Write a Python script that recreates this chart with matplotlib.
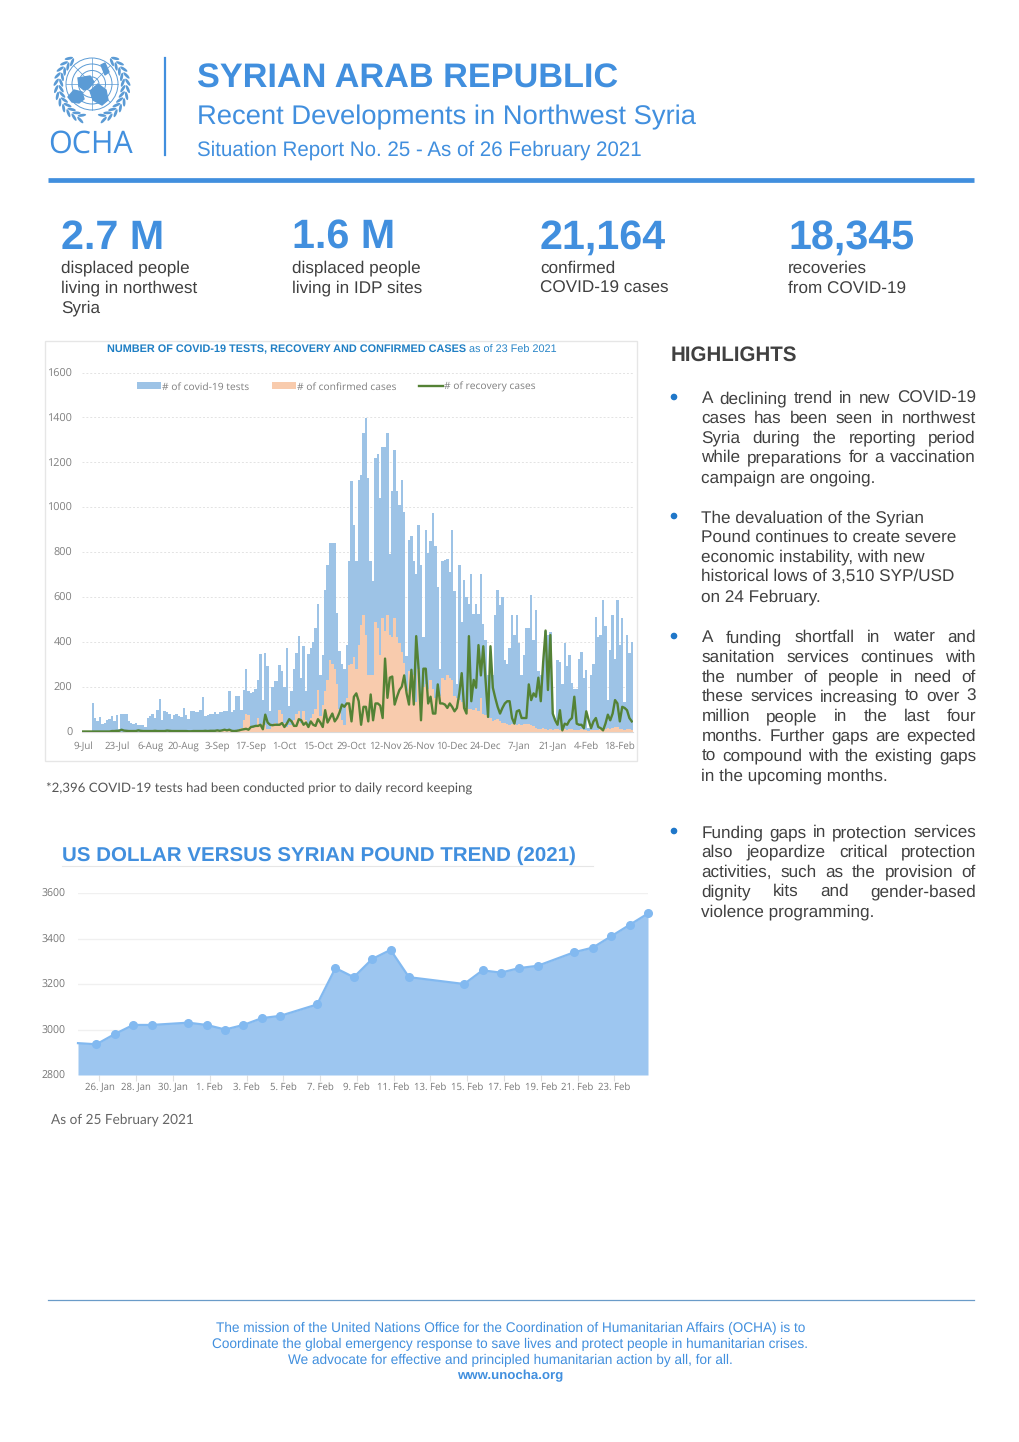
import numpy as np
import pandas as pd
import matplotlib
matplotlib.use("Agg")
import matplotlib.pyplot as plt
from matplotlib.patches import Circle, Ellipse, Polygon

plt.rcParams["font.family"] = ["Liberation Sans", "DejaVu Sans"]
plt.rcParams["text.hinting"] = "no_hinting"

# Daily covid chart, 9-Jul to 23-Feb
covid_tests = [
    0, 0, 0, 0, 125, 60, 45, 65, 35, 40,
    50, 55, 70, 45, 75, 10, 80, 80, 78, 45,
    38, 35, 38, 30, 30, 28, 20, 60, 70, 80,
    60, 95, 145, 50, 90, 85, 80, 55, 75, 80,
    70, 65, 105, 75, 55, 90, 90, 88, 85, 95,
    155, 70, 75, 78, 80, 85, 78, 88, 85, 90,
    90, 180, 85, 95, 160, 160, 95, 185, 280, 180,
    170, 175, 190, 230, 345, 140, 350, 290, 90, 200,
    225, 225, 295, 270, 200, 370, 115, 180, 280, 350,
    425, 240, 380, 180, 345, 370, 400, 460, 570, 250,
    340, 630, 740, 840, 840, 840, 530, 360, 300, 280,
    385, 760, 1115, 920, 760, 1120, 1145, 1330, 1397, 1130,
    760, 670, 1220, 1235, 1040, 1270, 1270, 1330, 790, 1070,
    1255, 1070, 1010, 1120, 980, 335, 855, 870, 760, 700,
    920, 740, 420, 900, 795, 850, 975, 825, 645, 280,
    760, 765, 770, 710, 900, 625, 210, 740, 490, 675,
    600, 570, 700, 525, 570, 525, 700, 480, 410, 250,
    330, 250, 520, 630, 565, 600, 320, 300, 370, 520,
    430, 520, 395, 250, 340, 460, 460, 610, 410, 540,
    270, 250, 280, 450, 430, 445, 90, 60, 320, 310,
    210, 395, 290, 340, 215, 190, 190, 325, 355, 240,
    275, 15, 250, 300, 510, 420, 430, 585, 470, 140,
    365, 520, 325, 585, 385, 505, 130, 430, 350, 400,
]
confirmed_cases = [
    0, 0, 0, 0, 0, 0, 0, 0, 0, 0,
    0, 0, 0, 0, 0, 0, 0, 0, 0, 0,
    0, 0, 0, 0, 0, 0, 0, 0, 0, 0,
    0, 0, 0, 0, 0, 0, 0, 0, 0, 0,
    0, 0, 0, 0, 0, 0, 0, 0, 0, 0,
    0, 0, 0, 0, 0, 0, 2, 2, 2, 3,
    3, 3, 5, 5, 8, 10, 15, 50, 80, 75,
    25, 15, 30, 60, 25, 40, 30, 10, 10, 30,
    40, 30, 95, 80, 40, 20, 30, 30, 50, 80,
    90, 40, 90, 50, 25, 60, 80, 100, 185, 70,
    120, 180, 230, 320, 300, 280, 210, 100, 50, 30,
    150, 295, 300, 330, 280, 385, 475, 520, 430, 250,
    250, 250, 490, 460, 340, 505, 450, 520, 430, 420,
    505, 420, 395, 355, 305, 180, 270, 220, 250, 130,
    280, 130, 200, 210, 190, 230, 190, 150, 190, 160,
    240, 230, 250, 240, 230, 160, 150, 140, 130, 100,
    110, 100, 100, 95, 105, 90, 150, 80, 75, 60,
    60, 45, 50, 55, 45, 37, 40, 35, 30, 35,
    35, 30, 35, 30, 35, 35, 35, 30, 25, 15,
    10, 12, 15, 10, 8, 10, 8, 10, 12, 8,
    8, 10, 8, 12, 10, 8, 6, 8, 10, 6,
    5, 3, 6, 8, 8, 8, 10, 12, 10, 14,
    10, 15, 20, 18, 12, 10, 8, 12, 10, 8,
]
recovery_cases = [
    0, 0, 0, 0, 0, 0, 0, 0, 0, 0,
    0, 0, 2, 2, 3, 3, 8, 4, 3, 2,
    2, 2, 2, 5, 3, 2, 2, 2, 2, 2,
    3, 2, 2, 2, 2, 4, 3, 2, 2, 2,
    2, 2, 2, 2, 1, 1, 2, 2, 2, 2,
    2, 3, 2, 3, 3, 3, 5, 3, 5, 8,
    5, 8, 3, 2, 3, 5, 8, 10, 12, 8,
    20, 22, 25, 25, 30, 10, 75, 40, 30, 28,
    30, 30, 30, 38, 20, 35, 55, 45, 25, 25,
    55, 50, 30, 40, 20, 45, 30, 25, 55, 40,
    20, 95, 40, 60, 80, 45, 60, 85, 120, 110,
    125, 125, 45, 155, 170, 135, 30, 110, 110, 45,
    165, 50, 125, 125, 115, 60, 325, 150, 240, 245,
    120, 155, 185, 200, 250, 170, 120, 275, 120, 425,
    280, 50, 280, 280, 125, 155, 80, 80, 210, 125,
    125, 120, 105, 125, 110, 90, 105, 170, 260, 105,
    80, 425, 135, 230, 195, 385, 250, 380, 225, 65,
    380, 195, 150, 110, 80, 105, 125, 135, 135, 60,
    35, 90, 95, 60, 60, 60, 210, 140, 170, 155,
    240, 135, 310, 450, 185, 430, 80, 50, 30, 95,
    5, 35, 30, 50, 60, 155, 35, 30, 30, 15,
    90, 50, 15, 45, 60, 20, 15, 5, 35, 75,
    50, 80, 140, 125, 45, 110, 105, 95, 60, 45,
]
covid_labels = ["9-Jul", "23-Jul", "6-Aug", "20-Aug", "3-Sep", "17-Sep", "1-Oct", "15-Oct",
                "29-Oct", "12-Nov", "26-Nov", "10-Dec", "24-Dec", "7-Jan", "21-Jan", "4-Feb", "18-Feb"]

# Exchange rate chart
fx_dates = ["2021-01-25", "2021-01-26", "2021-01-27", "2021-01-28", "2021-01-29", "2021-01-31",
            "2021-02-01", "2021-02-02", "2021-02-03", "2021-02-04", "2021-02-05", "2021-02-07",
            "2021-02-08", "2021-02-09", "2021-02-10", "2021-02-11", "2021-02-12", "2021-02-15",
            "2021-02-16", "2021-02-17", "2021-02-18", "2021-02-19", "2021-02-21", "2021-02-22",
            "2021-02-23", "2021-02-24", "2021-02-25"]
fx_values = [2940, 2935, 2980, 3020, 3020, 3030, 3020, 3000, 3020, 3050, 3060, 3110, 3270, 3230,
             3310, 3350, 3230, 3200, 3260, 3250, 3270, 3280, 3340, 3360, 3410, 3460, 3510]
fx_tick_dates = ["2021-01-26", "2021-01-28", "2021-01-30", "2021-02-01", "2021-02-03", "2021-02-05",
                 "2021-02-07", "2021-02-09", "2021-02-11", "2021-02-13", "2021-02-15", "2021-02-17",
                 "2021-02-19", "2021-02-21", "2021-02-23"]
fx_tick_labels = ["26. Jan", "28. Jan", "30. Jan", "1. Feb", "3. Feb", "5. Feb", "7. Feb", "9. Feb",
                  "11. Feb", "13. Feb", "15. Feb", "17. Feb", "19. Feb", "21. Feb", "23. Feb"]

# Key figures
kpi_x = [61, 292, 540, 788]
kpi_numbers = ["2.7 M", "1.6 M", "21,164", "18,345"]
kpi_notes = [["displaced people", "living in northwest", "Syria"],
             ["displaced people", "living in IDP sites"],
             ["confirmed", "COVID-19 cases"],
             ["recoveries", "from COVID-19"]]

# (lines, justified?, first baseline)
highlights = [
    (["A declining trend in new COVID-19", "cases has been seen in northwest",
      "Syria during the reporting period", "while preparations for a vaccination",
      "campaign are ongoing."], True, 403),
    (["The devaluation of the Syrian", "Pound continues to create severe",
      "economic instability, with new", "historical lows of 3,510 SYP/USD",
      "on 24 February."], False, 522),
    (["A funding shortfall in water and", "sanitation services continues with",
      "the number of people in need of", "these services increasing to over 3",
      "million people in the last four", "months. Further gaps are expected",
      "to compound with the existing gaps", "in the upcoming months."], True, 642),
    (["Funding gaps in protection services", "also jeopardize critical protection",
      "activities, such as the provision of", "dignity kits and gender-based",
      "violence programming."], True, 837),
]
footer_lines = ["The mission of the United Nations Office for the Coordination of Humanitarian Affairs (OCHA) is to",
                "Coordinate the global emergency response to save lives and protect people in humanitarian crises.",
                "We advocate for effective and principled humanitarian action by all, for all."]

BLUE = "#418FDE"
LOGO = "#5b9bd5"
DARK = "#404040"
W, H = 1020, 1442

fig = plt.figure(figsize=(W / 100, H / 100), dpi=100, facecolor="white")
page = fig.add_axes([0, 0, 1, 1])
page.set_xlim(0, W)
page.set_ylim(H, 0)
page.axis("off")


def pixel_axes(left, top, right, bottom):
    return fig.add_axes([left / W, 1 - bottom / H, (right - left) / W, (bottom - top) / H])


def justified(line, x0, x1, y, size):
    words = line.split()
    renderer = fig.canvas.get_renderer()
    items = [page.text(x0, y, w, fontsize=size, color=DARK, va="baseline") for w in words]
    widths = [t.get_window_extent(renderer).width for t in items]
    gap = (x1 - x0 - sum(widths)) / (len(words) - 1)
    x = x0
    for t, w in zip(items, widths):
        t.set_x(x)
        x += w + gap


# Header
page.plot([165, 165], [58, 155], color=BLUE, lw=1.6)
page.text(197, 87.5, "SYRIAN ARAB REPUBLIC", fontsize=24.65, fontweight="bold", color=BLUE)
page.text(197, 124, "Recent Developments in Northwest Syria", fontsize=19.7, color=BLUE)
page.text(197, 156, "Situation Report No. 25 - As of 26 February 2021", fontsize=14.8, color=BLUE)
page.plot([48, 974], [180, 180], color=BLUE, lw=3.4, solid_capstyle="butt")

# OCHA emblem
cx, cy = 92, 84
for r in (26, 20, 13.5, 7):
    page.add_patch(Circle((cx, cy), r, fill=False, ec=LOGO, lw=0.7))
for ang in np.arange(0, 180, 45):
    dx, dy = 26 * np.cos(np.radians(ang)), 26 * np.sin(np.radians(ang))
    page.plot([cx - dx, cx + dx], [cy - dy, cy + dy], color=LOGO, lw=0.5)
page.add_patch(Polygon([(68, 97), (74, 90), (82, 92), (84, 99), (79, 103), (72, 102)], color=LOGO))
page.add_patch(Polygon([(78, 78), (90, 76), (94, 82), (89, 88), (84, 90), (79, 86)], color=LOGO))
page.add_patch(Polygon([(90, 91), (98, 84), (106, 90), (108, 100), (102, 105), (93, 100)], color=LOGO))
page.add_patch(Polygon([(101, 65), (105, 63), (109, 72), (105, 75)], color=LOGO))
for side in (-1, 1):
    for ang in np.arange(-50, 72, 11):
        rad = np.radians(ang)
        tx, ty = -side * np.sin(rad), np.cos(rad)
        for radius, twist in ((31, 28), (36, -28)):
            lx = cx + side * radius * np.cos(rad)
            ly = cy + 2 + radius * np.sin(rad)
            tilt = np.degrees(np.arctan2(ty, tx)) + side * twist
            page.add_patch(Ellipse((lx, ly), 8.5, 2.8, angle=tilt, color=LOGO, lw=0))
page.text(90.5, 152.5, "OCHA", fontsize=22, color=BLUE, ha="center", family=["Open Sans", "DejaVu Sans"])

# Key figures
for x, number, notes in zip(kpi_x, kpi_numbers, kpi_notes):
    page.text(x, 249, number, fontsize=29.7, fontweight="bold", color=BLUE)
    for i, note in enumerate(notes):
        page.text(x, 272.7 + i * 20, note, fontsize=12.3, color=DARK)

# Highlights
page.text(671, 361, "HIGHLIGHTS", fontsize=14.8, fontweight="bold", color=DARK)
fig.canvas.draw()
for lines, just, y0 in highlights:
    page.add_patch(Circle((674, y0 - 6), 2.6, color="#1f77c9"))
    for i, line in enumerate(lines):
        y = y0 + i * 19.75
        if just and i < len(lines) - 1:
            justified(line, 701.5, 976, y, 12.35)
        else:
            page.text(701.5, y, line, fontsize=12.35, color=DARK)

# Covid chart frame and title
page.add_patch(plt.Rectangle((45.5, 340.5), 592, 420, fill=False, ec="#e6e6e6", lw=1))
renderer = fig.canvas.get_renderer()
t1 = page.text(107, 352.5, "NUMBER OF COVID-19 TESTS, RECOVERY AND CONFIRMED CASES", fontsize=7.84,
               fontweight="bold", color="#1f7fc4")
page.text(107 + t1.get_window_extent(renderer).width + 3, 352.5, "as of 23 Feb 2021", fontsize=7.84, color="#2a86c8")

CHART_FONT = ["Open Sans", "DejaVu Sans"]
days = np.arange(len(covid_tests))
ax = pixel_axes(82, 372.5, 633, 731.5)
b1 = ax.bar(days, covid_tests, width=1, color="#9DC3E6", label="# of covid-19 tests", zorder=2)
b2 = ax.bar(days, confirmed_cases, width=1, color="#F8CBAD", label="# of confirmed cases", zorder=3)
line, = ax.plot(days, recovery_cases, color="#548235", lw=1.7, label="# of recovery cases", zorder=4)
ax.set_xlim(-0.5, 229.5)
ax.set_ylim(0, 1600)
ax.set_yticks(range(0, 1601, 200))
ax.set_xticks(days[::14])
ax.set_xticklabels(covid_labels)
ax.tick_params(axis="x", length=0, labelsize=7.0, labelcolor="#7f7f7f", pad=7)
ax.tick_params(axis="y", length=0, labelsize=7.8, labelcolor="#7f7f7f", pad=7)
for lab in ax.get_xticklabels() + ax.get_yticklabels():
    lab.set_family(CHART_FONT)
ax.grid(axis="y", color="#e3e3e3", lw=0.7, ls=(0, (2, 2)), zorder=0)
ax.set_axisbelow(True)
for s in ax.spines.values():
    s.set_visible(False)
ax.spines["bottom"].set_visible(True)
ax.spines["bottom"].set_color("#d9d9d9")
ax.patch.set_alpha(0)
ax.legend(handles=[b1, b2, line], loc="upper center", bbox_to_anchor=(0.462, 1.0), ncol=3, frameon=False,
          labelcolor="#7f7f7f", handlelength=2.3, handletextpad=0.15, columnspacing=2.2,
          prop={"family": CHART_FONT, "size": 7.4})
page.text(46, 793, "*2,396 COVID-19 tests had been conducted prior to daily record keeping",
          fontsize=9.53, color="#555555", family=["Lato", "DejaVu Sans"])

# Exchange rate chart
page.text(62, 861, "US DOLLAR VERSUS SYRIAN POUND TREND (2021)", fontsize=14.76, fontweight="bold", color=BLUE)
page.plot([62, 593], [866, 866], color="#e6e6e6", lw=0.8)

dates = pd.to_datetime(fx_dates)
ax2 = pixel_axes(78, 893, 648, 1075)
ax2.fill_between(dates, fx_values, 2800, color="#9DC6F0", lw=0, zorder=2)
ax2.plot(dates, fx_values, color="#82B9F0", lw=1.6, marker="o", ms=5.5,
         markevery=list(range(1, len(fx_values))), clip_on=False, zorder=3)
ax2.set_xlim(dates[0], dates[-1])
ax2.set_ylim(2800, 3600)
ax2.set_yticks(range(2800, 3601, 200))
tick_pos = pd.to_datetime(fx_tick_dates) + pd.Timedelta(hours=4)
ax2.set_xticks(tick_pos)
ax2.set_xticklabels(fx_tick_labels)
ax2.tick_params(axis="x", length=4, color="#e0e0e0", labelsize=6.9, labelcolor="#777777", pad=1.5)
ax2.tick_params(axis="y", length=0, labelsize=7.6, labelcolor="#777777", pad=9)
for lab in ax2.get_xticklabels() + ax2.get_yticklabels():
    lab.set_family(CHART_FONT)
ax2.grid(axis="y", color="#f0f0f0", lw=1, zorder=0)
ax2.set_axisbelow(True)
for s in ax2.spines.values():
    s.set_visible(False)
ax2.patch.set_alpha(0)
page.text(51, 1124, "As of 25 February 2021", fontsize=9.85, color="#666666", family=["Lato", "DejaVu Sans"])

# Footer
page.plot([48, 974], [1300, 1300], color="#6a9bc8", lw=0.9)
for i, line_text in enumerate(footer_lines):
    page.text(510.5, 1332 + i * 15.8, line_text, fontsize=9.85, color=BLUE, ha="center")
page.text(510.5, 1379.5, "www.unocha.org", fontsize=9.5, color=BLUE, ha="center", fontweight="bold")

fig.savefig("out.png", dpi=100)
